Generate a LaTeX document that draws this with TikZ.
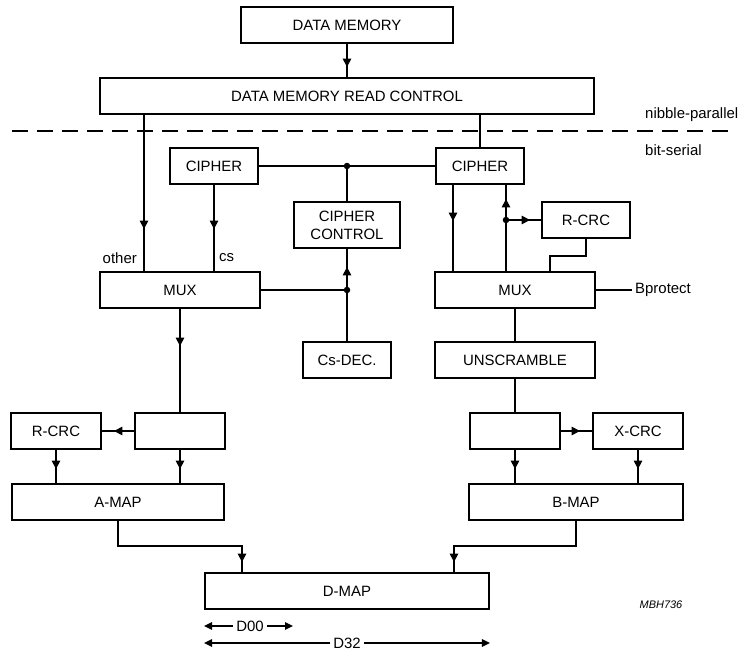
\documentclass[tikz,border=0pt]{standalone}
\usepackage{fontspec}
\setmainfont{Liberation Sans}
\usetikzlibrary{arrows.meta,decorations.markings}

\begin{document}
\begin{tikzpicture}[x=1bp,y=-1bp,>={Triangle[length=8bp,width=7.5bp]},
  font=\fontsize{15}{18}\selectfont,
  blk/.style={draw,line width=1.9bp,minimum height=36bp,inner sep=0pt,align=center},
  lbl/.style={inner sep=0pt},
  wire/.style={line width=1.5bp},
  dot/.style={circle,fill,inner sep=0pt,minimum size=6.5bp},
  midtip/.style={postaction={decorate},decoration={markings,mark=at position #1 with {\arrow{Triangle[length=8.5bp,width=8.5bp]}}}}
]
\useasboundingbox (0,0) rectangle (738,650);

\node[blk,minimum width=212bp] (dm) at (347,25) {DATA MEMORY};
\node[blk,minimum width=494bp] (dmrc) at (347,96) {DATA MEMORY READ CONTROL};
\node[blk,minimum width=88bp] (lcip) at (214,166) {CIPHER};
\node[blk,minimum width=88bp] (rcip) at (480,166) {CIPHER};
\node[blk,minimum width=106bp,minimum height=46bp] (cc) at (347,225) {CIPHER\\CONTROL};
\node[blk,minimum width=88bp] (rcrc) at (586,220) {R-CRC};
\node[blk,minimum width=160bp] (lmux) at (180,290) {MUX};
\node[blk,minimum width=160bp] (rmux) at (515,290) {MUX};
\node[blk,minimum width=88bp] (csdec) at (347,360) {Cs-DEC.};
\node[blk,minimum width=160bp] (unscr) at (515,360) {UNSCRAMBLE};
\node[blk,minimum width=90bp] (lcrc) at (56,431) {R-CRC};
\node[blk,minimum width=90bp] (lbuf) at (180,431) {};
\node[blk,minimum width=90bp] (rbuf) at (515,431) {};
\node[blk,minimum width=90bp] (xcrc) at (638,431) {X-CRC};
\node[blk,minimum width=212bp] (amap) at (118,502) {A-MAP};
\node[blk,minimum width=214bp] (bmap) at (576,502) {B-MAP};
\node[blk,minimum width=284bp] (dmap) at (347,591) {D-MAP};

\node[lbl,anchor=east] (other) at (137,258) {other};
\node[lbl,anchor=west] (cs) at (219,258) {cs};
\node[lbl,anchor=west,inner sep=3bp] (bprot) at (632,290) {Bprotect};
\node[lbl,anchor=west] (nib) at (645,115) {nibble-parallel};
\node[lbl,anchor=west] (bits) at (645,150) {bit-serial};
\node[lbl,font=\fontsize{11}{13}\selectfont\itshape] (mbh) at (661,605) {MBH736};
\node[lbl,inner sep=3bp] (d00) at (250,626) {D00};
\node[lbl,inner sep=3bp] (d32) at (347,643) {D32};

\draw[line width=1.9bp,dash pattern=on 16bp off 9bp] (12,131) -- (736,131);

\node[dot] (j1) at (cc.north |- lcip.east) {};
\node[dot] (j2) at (cc.south |- lmux.east) {};
\coordinate (oth) at ([xshift=-36bp]lmux.north);
\coordinate (rdn) at ([xshift=-27bp]rcip.south);
\coordinate (rup) at ([xshift=26bp]rcip.south);
\coordinate (rin) at ([xshift=35bp]rmux.north);
\node[dot] (j3) at (rup |- rcrc.west) {};
\coordinate (dml) at ([xshift=-105bp]dmap.north);
\coordinate (dmr) at ([xshift=107bp]dmap.north);
\coordinate (d00l) at (dmap.south west |- d00);
\coordinate (d00r) at ([xshift=43bp]d00.center);

\draw[wire,midtip=-10bp] (dm) -- (dmrc);
\draw[wire,midtip=-42bp] (oth |- dmrc.south) -- (oth);
\draw[wire,midtip=-42bp] (lcip) -- (lcip |- lmux.north);
\draw[wire] (rcip.north |- dmrc.south) -- (rcip);
\draw[wire] (lcip.east) -- (rcip.west);
\draw[wire] (j1) -- (cc);
\draw[wire] (lmux) -- (j2);
\draw[wire,midtip=-18bp] (csdec) -- (cc);
\draw[wire,midtip=-66bp] (lmux) -- (lbuf);
\draw[wire,midtip=-12bp] (lbuf) -- (lcrc);
\draw[wire,midtip=-14bp] (lcrc) -- (lcrc |- amap.north);
\draw[wire,midtip=-14bp] (lbuf) -- (lbuf |- amap.north);
\draw[wire,midtip=-10bp] (amap.south) -- ++(0,25) -| (dml);
\draw[wire,midtip=-50bp] (rdn) -- (rdn |- rmux.north);
\draw[wire,midtip=-14bp] (rup |- rmux.north) -- (rup);
\draw[wire,midtip=-11bp] (j3) -- (rcrc);
\draw[wire] (rcrc.south) -- ++(0,17) -| (rin);
\draw[wire] (rmux) -- (bprot);
\draw[wire] (rmux) -- (unscr);
\draw[wire] (unscr) -- (unscr |- rbuf.north);
\draw[wire,midtip=-12bp] (rbuf) -- (xcrc);
\draw[wire,midtip=-14bp] (rbuf) -- (rbuf |- bmap.north);
\draw[wire,midtip=-14bp] (xcrc) -- (xcrc |- bmap.north);
\draw[wire,midtip=-10bp] (bmap.south) -- ++(0,25) -| (dmr);

\draw[wire,->] (d00) -- (d00l);
\draw[wire,->] (d00) -- (d00r);
\draw[wire,->] (d32) -- (dmap.south west |- d32);
\draw[wire,->] (d32) -- (dmap.south east |- d32);
\end{tikzpicture}
\end{document}
